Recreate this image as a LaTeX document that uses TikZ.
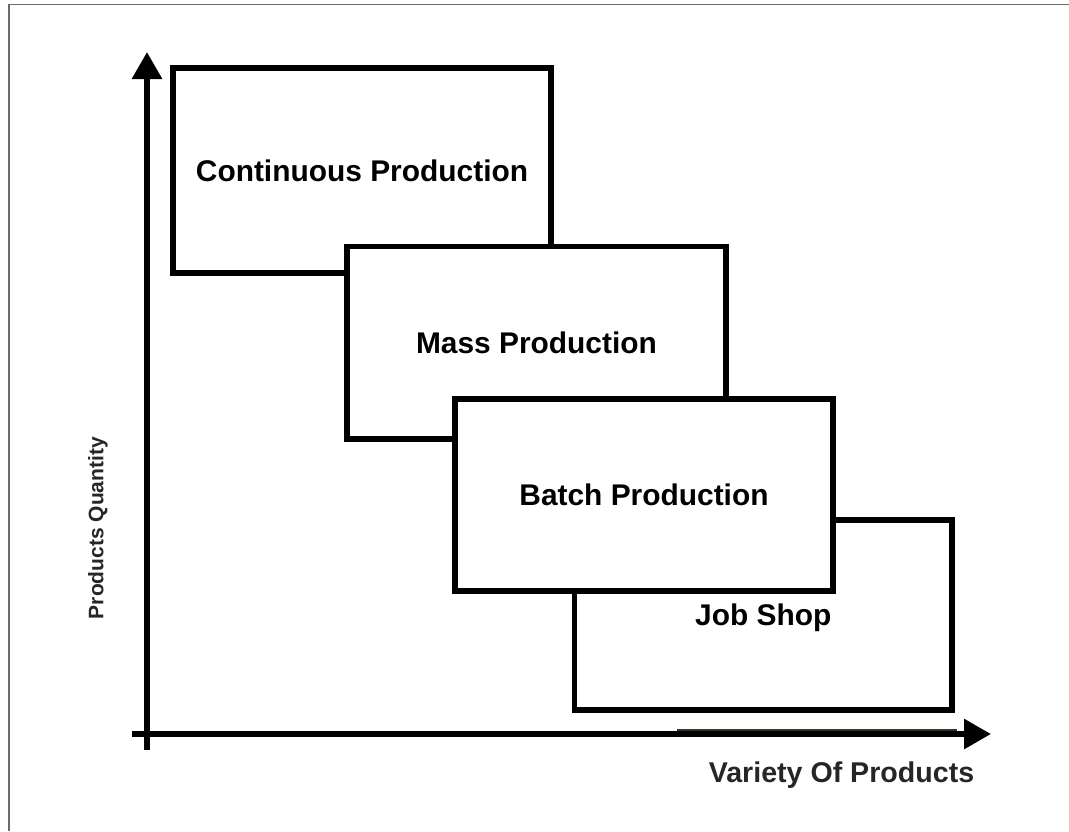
\documentclass[tikz,border=0pt]{standalone}
\usepackage{fontspec}
\setmainfont{Liberation Sans}
\usetikzlibrary{arrows.meta}
\definecolor{framegray}{HTML}{6A6A6A}
\definecolor{labelgray}{HTML}{262626}
\definecolor{brownline}{HTML}{3A3026}
\begin{document}
\begin{tikzpicture}[x=1pt,y=-1pt,
  stagebox/.style={draw=black, line width=5.5pt, fill=white, rectangle,
    inner sep=0pt, outer sep=0pt, font=\fontsize{29.9}{36}\selectfont\bfseries,
    text height=21.4pt, text depth=0pt},
  axisline/.style={line width=6pt, -{Triangle[length=27pt,width=29pt]}},
  axislabel/.style={text=labelgray, inner sep=0pt}
]
\useasboundingbox (0,0) rectangle (1069,831);
% frame (top and left edges of the screenshot)
\draw[framegray, line width=1.5pt] (9,831) -- (9,4.5) -- (1069,4.5);

% axes
\coordinate (yfoot) at (147,750);
\coordinate (ytip) at (147,52);
\coordinate (xfoot) at (132,734);
\coordinate (xtip) at (991,734);
\draw[axisline] (yfoot) -- (ytip);
\draw[axisline] (xfoot) -- (xtip);
\coordinate (s1) at (677,729.8);
\coordinate (s2) at (957,729.8);
\draw[brownline, line width=2.4pt] (s1) -- (s2);

% boxes
\node[stagebox, minimum width=378pt, minimum height=205pt] (cont) at (362,170.5) {Continuous Production};
\node[stagebox, minimum width=379pt, minimum height=192.5pt] (mass) at (536.5,342.75) {Mass Production};
\node[stagebox, minimum width=377.5pt, minimum height=190pt] (job) at (763.25,615) {Job Shop};
\node[stagebox, minimum width=378pt, minimum height=192pt] (batch) at (644,495) {Batch Production};

% axis labels
\node[axislabel, rotate=90, font=\fontsize{21}{25}\selectfont\bfseries] (ylab) at (98,528) {Products Quantity};
\node[axislabel, anchor=base, font=\fontsize{28.6}{34}\selectfont\bfseries] (xlab) at (841.5,782) {Variety Of Products};
\end{tikzpicture}
\end{document}
